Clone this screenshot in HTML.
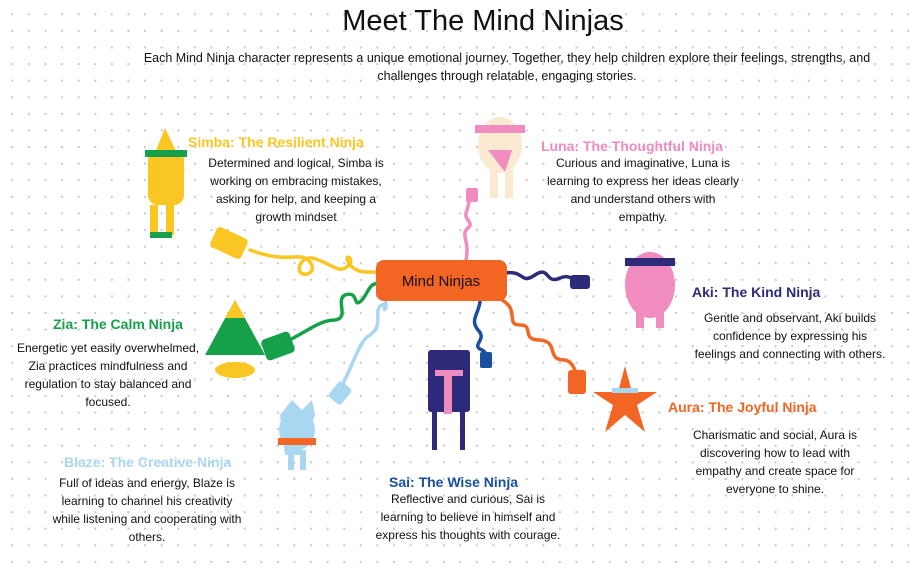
<!DOCTYPE html>
<html><head><meta charset="utf-8"><style>
html,body{margin:0;padding:0}
body{width:920px;height:569px;overflow:hidden;background:#fff;background-image:radial-gradient(circle,#c8c8c8 1px,transparent 1.3px);background-size:16.6px 16.6px;background-position:4px 6px;font-family:"Liberation Sans",sans-serif;position:relative}
svg{position:absolute;left:0;top:0}
</style></head><body>
<svg width="920" height="569" viewBox="0 0 920 569" font-family="Liberation Sans, sans-serif">
<!-- cords -->
<g fill="none" stroke-width="3.5" stroke-linecap="round">
<path d="M250,250 C290,265 300,250 310,262 C320,275 295,280 300,265 C310,245 335,275 345,268 C360,260 340,250 350,265 C360,276 372,270 378,273" stroke="#f9c623"/>
<path d="M280,345 C310,330 320,320 335,320 C350,318 335,300 345,295 C360,290 352,310 362,300 C370,290 368,285 378,283" stroke="#16a04a"/>
<path d="M340,390 C355,360 360,340 370,335 C385,325 372,310 382,305 C392,300 380,320 386,302" stroke="#a9d7f2"/>
<path d="M466,260 C470,240 460,235 468,228 C475,222 462,220 467,210 C470,200 470,195 472,190" stroke="#f08cbf"/>
<path d="M505,273 C525,270 520,285 535,275 C550,265 545,285 560,278 C570,274 572,280 580,282" stroke="#2e2a7a"/>
<path d="M480,302 C478,315 470,320 478,330 C488,340 470,345 482,350 C490,355 486,360 486,365" stroke="#1a4fa0"/>
<path d="M502,300 C520,310 505,325 520,325 C535,325 520,340 540,340 C560,342 545,360 565,360 C575,362 575,375 580,380" stroke="#f26522"/>
</g>
<!-- plugs -->
<rect x="212" y="232" width="34" height="22" rx="4" fill="#f9c623" transform="rotate(25 229 243)"/>
<rect x="263" y="335" width="30" height="22" rx="4" fill="#16a04a" transform="rotate(-20 278 346)"/>
<rect x="330" y="385" width="20" height="16" rx="3" fill="#a9d7f2" transform="rotate(-50 340 393)"/>
<rect x="466" y="188" width="12" height="14" rx="2" fill="#f08cbf"/>
<rect x="570" y="275" width="20" height="14" rx="3" fill="#2e2a7a"/>
<rect x="480" y="352" width="12" height="16" rx="2" fill="#1a4fa0"/>
<rect x="568" y="370" width="18" height="24" rx="3" fill="#f26522"/>
<!-- center -->
<rect x="376" y="260" width="131" height="41" rx="8" fill="#f26522"/>
<text x="441" y="286" font-size="15" text-anchor="middle" fill="#111">Mind Ninjas</text>
<!-- characters -->
<g>
<polygon points="165,128 148,170 185,170" fill="#f9c623"/>
<rect x="148" y="150" width="36" height="55" rx="10" fill="#f9c623"/>
<rect x="145" y="150" width="42" height="7" fill="#16a04a"/>
<rect x="150" y="205" width="8" height="30" fill="#f9c623"/><rect x="166" y="205" width="8" height="30" fill="#f9c623"/>
<rect x="150" y="232" width="22" height="6" fill="#16a04a"/>
</g>
<g>
<ellipse cx="500" cy="145" rx="22" ry="28" fill="#fbe9d2"/>
<rect x="475" y="125" width="50" height="8" fill="#f08cbf"/>
<path d="M488,150 L512,150 L505,172 Z" fill="#f08cbf"/>
<rect x="490" y="170" width="8" height="28" fill="#fbe9d2"/><rect x="505" y="170" width="8" height="28" fill="#fbe9d2"/>
</g>
<g>
<ellipse cx="650" cy="285" rx="25" ry="33" fill="#f08cbf"/>
<rect x="625" y="258" width="50" height="8" fill="#2e2a7a"/>
<rect x="636" y="310" width="8" height="18" fill="#f08cbf"/><rect x="656" y="310" width="8" height="18" fill="#f08cbf"/>
</g>
<g>
<polygon points="235,300 205,355 265,355" fill="#16a04a"/>
<polygon points="235,300 225,318 245,318" fill="#f9c623"/>
<ellipse cx="235" cy="370" rx="20" ry="8" fill="#f9c623"/>
</g>
<g>
<polygon points="625,366 632,392 657,392 637,405 645,432 625,415 605,432 613,405 593,392 618,392" fill="#f26522"/>
<rect x="612" y="388" width="26" height="5" fill="#a9d7f2"/>
</g>
<g>
<polygon points="292,400 302,410 312,400 315,415 300,455 285,455 280,415" fill="#a9d7f2"/>
<ellipse cx="297" cy="430" rx="18" ry="20" fill="#a9d7f2"/>
<rect x="278" y="438" width="38" height="7" fill="#f26522"/>
<rect x="288" y="450" width="6" height="20" fill="#a9d7f2"/><rect x="300" y="450" width="6" height="20" fill="#a9d7f2"/>
</g>
<g>
<rect x="428" y="350" width="42" height="62" fill="#2e2a7a" rx="3"/>
<rect x="435" y="370" width="28" height="6" fill="#f08cbf"/>
<rect x="444" y="376" width="8" height="38" fill="#f08cbf"/>
<rect x="432" y="412" width="5" height="38" fill="#2e2a7a"/><rect x="460" y="412" width="5" height="38" fill="#2e2a7a"/>
</g>
<!-- text -->
<text x="483" y="30" font-size="29" text-anchor="middle" fill="#111">Meet The Mind Ninjas</text>
<g font-size="12.5" fill="#111" text-anchor="middle">
<text x="507" y="62">Each Mind Ninja character represents a unique emotional journey. Together, they help children explore their feelings, strengths, and</text>
<text x="507" y="80">challenges through relatable, engaging stories.</text>
</g>
<g font-size="14" font-weight="bold">
<text x="188" y="147" fill="#f9c623">Simba: The Resilient Ninja</text>
<text x="541" y="151" fill="#f08cbf">Luna: The Thoughtful Ninja</text>
<text x="692" y="297" fill="#2e2a7a">Aki: The Kind Ninja</text>
<text x="53" y="329" fill="#16a04a">Zia: The Calm Ninja</text>
<text x="668" y="412" fill="#f26522">Aura: The Joyful Ninja</text>
<text x="64" y="467" fill="#a9d7f2">Blaze: The Creative Ninja</text>
<text x="389" y="487" fill="#1a4fa0">Sai: The Wise Ninja</text>
</g>
<g font-size="12" fill="#111" text-anchor="middle">
<text x="296" y="167">Determined and logical, Simba is</text>
<text x="296" y="185">working on embracing mistakes,</text>
<text x="296" y="203">asking for help, and keeping a</text>
<text x="296" y="221">growth mindset</text>
<text x="643" y="167">Curious and imaginative, Luna is</text>
<text x="643" y="185">learning to express her ideas clearly</text>
<text x="643" y="203">and understand others with</text>
<text x="643" y="221">empathy.</text>
<text x="790" y="322">Gentle and observant, Aki builds</text>
<text x="790" y="340">confidence by expressing his</text>
<text x="790" y="358">feelings and connecting with others.</text>
<text x="108" y="352">Energetic yet easily overwhelmed,</text>
<text x="108" y="370">Zia practices mindfulness and</text>
<text x="108" y="388">regulation to stay balanced and</text>
<text x="108" y="406">focused.</text>
<text x="775" y="439">Charismatic and social, Aura is</text>
<text x="775" y="457">discovering how to lead with</text>
<text x="775" y="475">empathy and create space for</text>
<text x="775" y="493">everyone to shine.</text>
<text x="147" y="487">Full of ideas and energy, Blaze is</text>
<text x="147" y="505">learning to channel his creativity</text>
<text x="147" y="523">while listening and cooperating with</text>
<text x="147" y="541">others.</text>
<text x="468" y="503">Reflective and curious, Sai is</text>
<text x="468" y="521">learning to believe in himself and</text>
<text x="468" y="539">express his thoughts with courage.</text>
</g>
</svg>
</body></html>
